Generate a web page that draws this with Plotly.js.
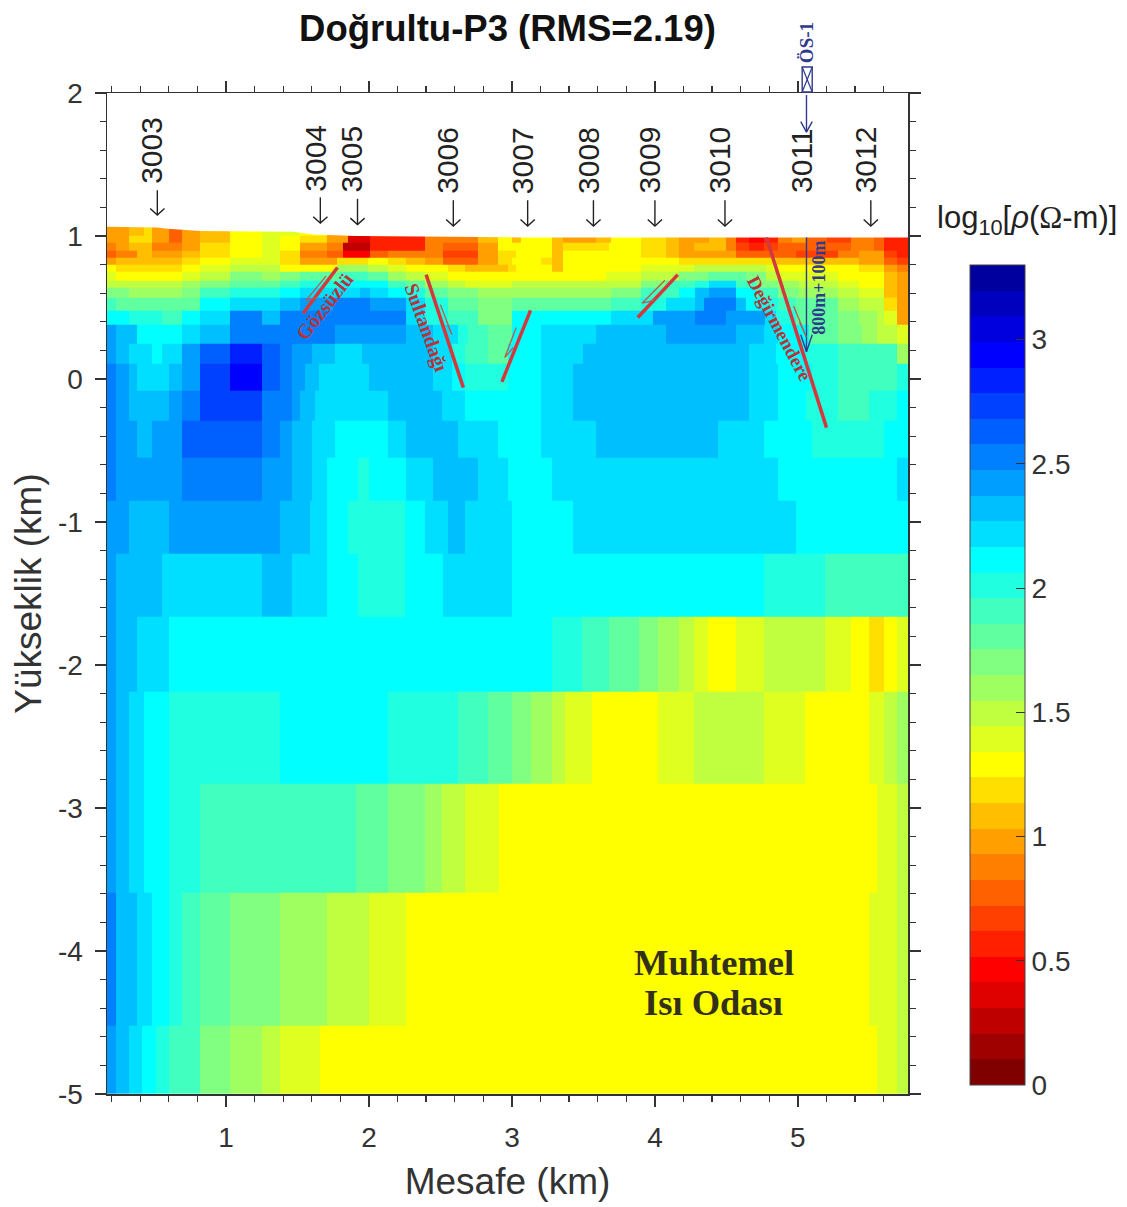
<!DOCTYPE html>
<html>
<head>
<meta charset="utf-8">
<script src="https://cdn.plot.ly/plotly-3.0.1.min.js"></script>
<style>html,body{margin:0;padding:0;background:#fff}#c{width:1127px;height:1207px}</style>
</head>
<body>
<div id="c"></div>
<script>
// Row boundaries (elevation, km), bottom to top
const derinlikKenar = [-5,-4.52,-3.59,-2.83,-2.19,-1.66,-1.22,-0.85,-0.55,-0.29,-0.08,0.11,0.25,0.38,0.48,0.57,0.64,0.69,0.75,0.80,0.85,0.90,0.95,1.0,1.1];
const xBaslangic = 0.168;
const xBitis = 5.77;

// Each row: [distance where the cell ends (km), log10 resistivity]
const r01 = [[.23,2.42],[.32,2.32],[.41,2.22],[.51,2.11],[.60,2.01],[.82,1.91],[1.03,1.70],[1.25,1.60],[1.38,1.50],[1.66,1.39],[5.55,1.29],[5.69,1.39],[5.77,1.50]];
const r02 = [[.23,2.53],[.38,2.32],[.48,2.22],[.60,2.11],[.69,2.01],[.82,1.91],[1.03,1.80],[1.38,1.70],[1.71,1.60],[2.00,1.50],[2.26,1.39],[5.50,1.29],[5.69,1.39],[5.77,1.50]];
const r03 = [[.23,2.42],[.32,2.32],[.43,2.22],[.60,2.11],[.82,2.01],[1.91,1.91],[2.13,1.80],[2.39,1.70],[2.51,1.60],[2.67,1.50],[2.91,1.39],[5.55,1.29],[5.69,1.39],[5.77,1.50]];
const r04 = [[.23,2.42],[.32,2.32],[.43,2.22],[.60,2.11],[1.38,2.01],[2.13,2.11],[2.62,2.01],[2.83,1.91],[3.00,1.80],[3.13,1.70],[3.28,1.60],[3.37,1.50],[3.56,1.39],[4.02,1.29],[4.27,1.39],[4.76,1.50],[5.05,1.39],[5.50,1.29],[5.60,1.39],[5.69,1.50],[5.77,1.60]];
const r05 = [[.23,2.42],[.38,2.32],[.60,2.22],[3.28,2.11],[3.49,2.01],[3.68,1.91],[3.89,1.80],[4.02,1.70],[4.17,1.60],[4.27,1.50],[4.37,1.39],[4.57,1.29],[4.76,1.39],[5.19,1.50],[5.37,1.39],[5.50,1.29],[5.60,1.19],[5.69,1.29],[5.77,1.39]];
const r06 = [[.23,2.42],[.55,2.32],[1.25,2.22],[1.46,2.32],[1.71,2.22],[1.92,2.11],[2.25,2.01],[2.52,2.11],[3.00,2.22],[4.76,2.11],[5.19,2.01],[5.77,1.91]];
const r07 = [[.32,2.42],[.60,2.32],[1.38,2.42],[1.59,2.32],[1.71,2.22],[1.85,2.11],[2.25,2.01],[2.39,2.11],[2.55,2.22],[2.67,2.32],[3.00,2.22],[3.43,2.11],[4.99,2.22],[5.77,2.11]];
const r08 = [[.23,2.53],[.69,2.42],[1.25,2.53],[1.46,2.42],[1.60,2.32],[1.71,2.22],[1.92,2.11],[2.00,2.01],[2.26,2.11],[2.45,2.22],[2.76,2.32],[2.97,2.22],[3.28,2.11],[4.86,2.22],[5.69,2.11],[5.77,2.22]];
const r09 = [[.23,2.53],[.38,2.42],[.48,2.32],[.69,2.42],[1.25,2.63],[1.38,2.53],[1.46,2.42],[1.60,2.32],[1.76,2.22],[2.13,2.11],[2.26,2.22],[2.62,2.32],[2.90,2.22],[3.20,2.11],[3.59,2.22],[4.44,2.32],[4.76,2.22],[5.10,2.11],[5.60,2.01],[5.77,2.11]];
const r10 = [[.23,2.53],[.32,2.42],[.60,2.32],[.69,2.42],[.82,2.53],[1.25,2.73],[1.46,2.53],[1.52,2.42],[1.62,2.32],[2.13,2.22],[2.51,2.32],[2.67,2.22],[3.20,2.11],[3.43,2.22],[4.66,2.32],[4.86,2.22],[5.06,2.11],[5.28,2.01],[5.50,1.91],[5.69,2.01],[5.77,2.11]];
const r11 = [[.23,2.53],[.32,2.42],[.38,2.32],[.60,2.22],[.69,2.32],[.82,2.42],[1.03,2.73],[1.25,2.94],[1.38,2.63],[1.46,2.53],[1.55,2.42],[1.65,2.32],[2.00,2.22],[2.45,2.32],[2.58,2.22],[2.67,2.11],[2.97,2.01],[3.20,2.11],[3.43,2.22],[4.66,2.32],[4.86,2.22],[5.10,2.11],[5.28,2.01],[5.69,1.91],[5.77,2.01]];
const r12 = [[.23,2.42],[.32,2.32],[.48,2.22],[.55,2.11],[.69,2.22],[.82,2.42],[1.03,2.63],[1.25,2.84],[1.38,2.63],[1.46,2.53],[1.60,2.42],[1.76,2.32],[1.95,2.22],[2.45,2.32],[2.58,2.22],[2.67,2.01],[2.83,1.91],[2.97,1.80],[3.20,2.11],[3.50,2.22],[4.66,2.32],[4.85,2.22],[5.06,2.11],[5.28,2.01],[5.69,1.91],[5.77,1.60]];
const r13 = [[.23,2.42],[.38,2.32],[.69,2.11],[.82,2.22],[1.03,2.32],[1.76,2.53],[2.26,2.42],[2.45,2.32],[2.62,2.22],[2.69,2.01],[2.83,1.91],[3.00,1.80],[3.20,2.11],[3.59,2.22],[4.08,2.32],[4.57,2.42],[4.76,2.32],[4.86,2.22],[5.08,2.11],[5.28,1.80],[5.45,1.70],[5.55,1.60],[5.69,1.50],[5.77,1.39]];
const r14 = [[.32,2.11],[.55,2.01],[.69,1.91],[.82,2.11],[1.03,2.22],[1.25,2.53],[1.38,2.32],[2.26,2.53],[2.39,2.22],[2.55,2.01],[2.76,1.91],[3.00,1.70],[3.69,2.11],[3.99,2.22],[4.28,2.42],[4.50,2.53],[4.77,2.42],[4.85,2.22],[4.99,2.01],[5.28,1.80],[5.43,1.70],[5.55,1.60],[5.60,1.50],[5.69,1.39],[5.77,1.00]];
const r15 = [[.23,1.91],[.82,1.80],[1.03,2.11],[1.38,2.22],[1.52,2.32],[1.75,2.42],[2.01,2.53],[2.26,2.42],[2.39,2.22],[2.55,2.01],[2.76,1.80],[3.00,1.70],[3.69,1.80],[3.90,1.91],[4.08,2.01],[4.28,2.22],[4.34,2.32],[4.57,2.53],[4.64,2.32],[4.78,2.11],[4.86,2.01],[4.99,1.91],[5.28,1.80],[5.43,1.60],[5.60,1.50],[5.69,1.19],[5.77,.98]];
const r16 = [[.32,1.70],[.69,1.60],[.82,1.70],[1.03,1.91],[1.38,2.01],[1.52,2.11],[1.94,2.22],[2.01,2.32],[2.13,2.22],[2.26,2.11],[2.39,2.01],[2.55,1.80],[2.76,1.70],[3.69,1.60],[3.90,1.70],[4.17,1.91],[4.28,2.11],[4.38,2.32],[4.57,2.42],[4.71,2.11],[4.86,1.91],[5.01,1.70],[5.28,1.60],[5.43,1.50],[5.60,1.39],[5.69,1.08],[5.77,.98]];
const r17 = [[.69,1.50],[.82,1.60],[1.03,1.70],[1.38,1.80],[1.52,1.91],[1.80,2.01],[2.13,2.11],[2.26,1.91],[2.39,1.80],[2.55,1.60],[2.67,1.50],[3.00,1.39],[3.90,1.50],[4.08,1.70],[4.28,1.91],[4.38,2.01],[4.57,2.22],[4.71,1.91],[4.86,1.70],[5.01,1.60],[5.28,1.50],[5.43,1.39],[5.60,1.29],[5.69,1.08],[5.77,.98]];
const r18 = [[.23,1.39],[.69,1.29],[.82,1.39],[1.03,1.50],[1.25,1.70],[1.38,1.60],[1.52,1.70],[1.80,1.80],[1.99,1.91],[2.13,1.80],[2.26,1.60],[2.39,1.50],[2.55,1.39],[3.66,1.29],[3.90,1.39],[4.17,1.50],[4.37,1.70],[4.64,1.80],[4.78,1.70],[4.86,1.50],[5.28,1.39],[5.60,1.29],[5.69,1.08],[5.77,.98]];
const r19 = [[.23,1.29],[.69,1.19],[.82,1.29],[1.03,1.39],[1.38,1.50],[1.78,1.29],[1.99,1.60],[2.13,1.50],[2.26,1.39],[2.55,1.29],[2.67,1.19],[2.97,1.08],[3.03,1.19],[3.28,1.29],[3.36,1.08],[3.90,1.29],[4.27,1.39],[4.78,1.50],[4.86,1.39],[5.43,1.29],[5.60,1.19],[5.69,.98],[5.77,.88]];
const r20 = [[.23,.98],[.69,1.08],[.82,1.19],[1.03,1.29],[1.38,1.39],[1.52,1.19],[1.78,.98],[1.99,1.19],[2.13,1.29],[2.26,1.19],[2.39,1.08],[2.52,.98],[2.76,.77],[2.90,.98],[3.00,1.19],[3.20,1.29],[3.28,1.19],[3.36,1.08],[4.17,1.29],[4.85,1.19],[5.43,1.08],[5.60,.98],[5.69,.77],[5.77,.67]];
const r21 = [[.23,.77],[.38,.88],[.48,1.08],[.69,.98],[.82,1.08],[1.03,1.19],[1.25,1.29],[1.38,1.39],[1.52,1.19],[1.71,.88],[1.82,.77],[2.01,.46],[2.13,.77],[2.52,.88],[2.76,.67],[2.90,.98],[3.03,1.19],[3.28,1.29],[3.36,1.08],[3.90,1.29],[4.08,1.19],[4.17,1.08],[4.57,.98],[4.99,.77],[5.28,.67],[5.43,.88],[5.60,.98],[5.69,.67],[5.77,.57]];
const r22 = [[.23,.88],[.32,.98],[.48,1.08],[.69,.88],[.82,.98],[1.03,1.19],[1.25,1.29],[1.38,1.39],[1.52,1.29],[1.71,.98],[1.82,.88],[2.01,.26],[2.39,.57],[2.52,.88],[2.76,.77],[2.90,.98],[3.28,1.29],[3.36,1.08],[3.68,1.19],[3.90,1.29],[4.08,1.19],[4.17,1.08],[4.27,.98],[4.50,1.08],[4.57,.88],[4.66,.67],[4.76,.57],[4.86,.67],[5.37,.77],[5.53,.88],[5.60,.77],[5.77,.57]];
const r23 = [[.32,.98],[.48,1.19],[.60,.98],[.69,.77],[.82,.98],[1.03,1.08],[1.25,1.29],[1.38,1.39],[1.52,1.29],[1.71,1.19],[1.85,.98],[2.01,.36],[2.39,.57],[2.76,.88],[2.90,1.08],[3.00,1.29],[3.06,1.08],[3.28,1.29],[3.36,1.08],[3.59,.98],[3.69,1.08],[3.90,1.29],[4.08,1.19],[4.17,1.08],[4.38,.98],[4.50,1.08],[4.57,.88],[4.66,.57],[4.76,.46],[4.86,.57],[4.96,.88],[5.06,.98],[5.20,.77],[5.37,.67],[5.53,.88],[5.60,.77],[5.77,.57]];
const r24 = [[.32,.98],[.43,1.08],[.48,1.19],[.60,.98],[.69,.77],[.82,.98],[1.03,1.08],[1.25,1.29],[1.52,1.39],[1.71,1.29],[5.77,1.00]];
const satirlar = [r01,r02,r03,r04,r05,r06,r07,r08,r09,r10,r11,r12,r13,r14,r15,r16,r17,r18,r19,r20,r21,r22,r23,r24];

// Ground surface (km)
const yuzeyX = [.168,.43,.52,.59,.82,1.47,1.61,1.92,3.06,5.77];
const yuzeyY = [1.065,1.065,1.06,1.05,1.035,1.03,1.01,1.00,.99,.99];

// Stations
const istasyonAd = ['3003','3004','3005','3006','3007','3008','3009','3010','3011','3012'];
const istasyonX  = [.52,1.66,1.92,2.59,3.11,3.57,4.00,4.49,5.06,5.51];
const okUst      = [1.32,1.27,1.26,1.25,1.25,1.25,1.25,1.25,null,1.25];
const okUc       = [1.147,1.09,1.08,1.07,1.07,1.07,1.07,1.07,null,1.07];
const etiketY    = [1.60,1.545,1.54,1.53,1.53,1.53,1.53,1.53,1.53,1.53];

// Faults: [x0,y0,x1,y1] km
const faylar = [[1.54,.46,1.78,.78],[2.40,.73,2.66,-.06],[3.13,.48,2.93,-.02],[4.16,.73,3.88,.43],[4.78,.99,5.20,-.34]];
// Slip half arrows: [x0,y0,xTip,yTip,xBarb,yBarb]
const kaymalar = [[1.70,.72,1.56,.55,1.64,.57],[2.50,.52,2.58,.31,2.55,.38],[3.03,.36,2.95,.15,3.01,.22],[4.07,.69,3.91,.53,4.00,.55],[4.97,.51,5.06,.29,5.01,.40]];

// 32-level jet colormap, value 0 upward
const renkler = ['128,0,0','159,0,0','191,0,0','223,0,0','255,0,0','255,32,0','255,64,0','255,96,0','255,128,0','255,159,0','255,191,0','255,223,0','255,255,0','223,255,32','191,255,64','159,255,96','128,255,128','96,255,159','64,255,191','32,255,223','0,255,255','0,223,255','0,191,255','0,159,255','0,128,255','0,96,255','0,64,255','0,32,255','0,0,255','0,0,223','0,0,191','0,0,159'];
const renkMin = 0, renkMax = 3.3;
const renkTick = [0,.5,1,1.5,2,2.5,3];
const renkTickYazi = ['0','0.5','1','1.5','2','2.5','3'];
const yTick = [-5,-4,-3,-2,-1,0,1,2];
const yTickYazi = ['-5','-4','-3','-2','-1','0','1','2'];
const xTick = [1,2,3,4,5];

// ---- build ----
const kenarSet = new Set([xBaslangic]);
satirlar.forEach(r => r.forEach(c => kenarSet.add(c[0])));
const xKenar = Array.from(kenarSet).sort((a,b)=>a-b);
const z = satirlar.map(r => {
  const out = [];
  for (let i=0;i<xKenar.length-1;i++){
    const m=(xKenar[i]+xKenar[i+1])/2;
    const cell=r.find(c=>c[0]>=m)||r[r.length-1];
    out.push(cell[1]);
  }
  return out;
});
const colorscale=[];
renkler.forEach((c,i)=>{
  colorscale.push([i/renkler.length,'rgb('+c+')']);
  colorscale.push([(i+1)/renkler.length,'rgb('+c+')']);
});

const okX=[],okY=[];
istasyonX.forEach((x,i)=>{
  if(okUst[i]===null) return;
  okX.push(x,x,null,x-.05,x,x+.05,null);
  okY.push(okUst[i],okUc[i],null,okUc[i]+.045,okUc[i],okUc[i]+.045,null);
});
const fayX=[],fayY=[];
faylar.forEach(f=>{fayX.push(f[0],f[2],null);fayY.push(f[1],f[3],null);});
const kayX=[],kayY=[];
kaymalar.forEach(k=>{kayX.push(k[0],k[2],k[4],null);kayY.push(k[1],k[3],k[5],null);});

const SANS='"Liberation Sans", Arial, sans-serif';
const SERIF='"Liberation Serif", "Times New Roman", serif';
const KOYU='#333333', LACI='#2f3a8c', KIRMIZI='#d4383c', YAZIKIRMIZI='#b8323a';

const traces=[
 {type:'heatmap',x:xKenar,y:derinlikKenar,z:z,zmin:renkMin,zmax:renkMax,colorscale:colorscale,zsmooth:false,hoverinfo:'skip',
  colorbar:{thicknessmode:'pixels',thickness:55,lenmode:'pixels',len:820,x:1.0774,xanchor:'left',xpad:0,y:.009,yanchor:'bottom',ypad:0,
    outlinecolor:'#444',outlinewidth:1,tickmode:'array',tickvals:renkTick,ticktext:renkTickYazi,tickprefix:'\u00a0\u2009',ticks:'inside',ticklen:9,tickcolor:'#333',tickwidth:1,
    tickfont:{family:SANS,size:28,color:KOYU}}},
 {type:'scatter',mode:'lines',x:yuzeyX.concat([5.77,.168]),y:yuzeyY.concat([1.2,1.2]),fill:'toself',fillcolor:'#fff',line:{width:0,color:'#fff'},hoverinfo:'skip',showlegend:false},
 {type:'scatter',mode:'lines',x:okX,y:okY,line:{color:'#222',width:1.4},hoverinfo:'skip',showlegend:false},
 {type:'scatter',mode:'lines',x:[5.06,5.06,null,5.02,5.06,5.10],y:[1.986,1.727,null,1.80,1.727,1.80],line:{color:LACI,width:1.4},hoverinfo:'skip',showlegend:false},
 {type:'scatter',mode:'lines',x:[5.06,5.06,null,5.02,5.06,5.10],y:[.99,.19,null,.31,.19,.31],line:{color:LACI,width:1.4},hoverinfo:'skip',showlegend:false},
 {type:'scatter',mode:'lines',x:fayX,y:fayY,line:{color:KIRMIZI,width:3.5},hoverinfo:'skip',showlegend:false},
 {type:'scatter',mode:'lines',x:kayX,y:kayY,line:{color:'#b85a50',width:1.3},hoverinfo:'skip',showlegend:false}
];

const annotations=istasyonAd.map((t,i)=>({x:istasyonX[i]-.04,y:etiketY[i],xref:'x',yref:'y',xanchor:'center',yanchor:'middle',text:t,showarrow:false,textangle:-90,font:{family:SANS,size:30,color:'#222'}}));
const rot=(t,x,y,a,s,c)=>({x:x,y:y,xref:'x',yref:'y',xanchor:'center',yanchor:'middle',text:'<b>'+t+'</b>',showarrow:false,textangle:a,font:{family:SERIF,size:s,color:c}});
annotations.push(
 rot('Gözsüzlü',1.69,.51,-52,20,YAZIKIRMIZI),
 rot('Sultandağı',2.40,.36,70,20,YAZIKIRMIZI),
 rot('Değirmendere',4.87,.35,62,19,YAZIKIRMIZI),
 rot('800m+100m',5.15,.64,-90,18,LACI),
 rot('Muhtemel',4.41,-4.08,0,36.5,'#33301a'),
 rot('Isı Odası',4.41,-4.36,0,36.5,'#33301a'),
 {x:5.065,y:1.05,xref:'x',yref:'paper',xanchor:'center',yanchor:'middle',text:'<b>ÖS-1</b>',showarrow:false,textangle:-90,font:{family:SERIF,size:19,color:LACI}},
 {x:1.1486,y:.873,xref:'paper',yref:'paper',xanchor:'center',yanchor:'middle',text:'log<sub>10</sub>[<i>ρ</i>(<span style="font-family:\'Liberation Serif\'">Ω</span>-m)]',showarrow:false,font:{family:SANS,size:31,color:'#222'}}
);

const sutunKutu={type:'rect',xref:'x',yref:'paper',x0:5.03,x1:5.10,y0:1.001,y1:1.026,line:{color:LACI,width:1.4}};
const ekseni={showline:true,linecolor:'#333',linewidth:1.5,mirror:'ticks',ticks:'outside',ticklen:11,tickwidth:1.5,tickcolor:'#333',
  zeroline:false,showgrid:false,tickfont:{family:SANS,size:28,color:KOYU},
  minor:{ticks:'outside',ticklen:6,tickwidth:1.3,tickcolor:'#333',dtick:.2,tick0:0,showgrid:false}};

const layout={
 width:1127,height:1207,paper_bgcolor:'#fff',plot_bgcolor:'#fff',showlegend:false,
 margin:{l:107,r:219,t:93,b:113,pad:0},
 title:{text:'<b>Doğrultu-P3 (RMS=2.19)</b>',font:{family:SANS,size:36.5,color:'#111'},x:.5,xref:'paper',xanchor:'center',y:.9765,yref:'container',yanchor:'middle'},
 xaxis:Object.assign({},ekseni,{range:[xBaslangic,xBitis],tickmode:'array',tickvals:xTick,ticktext:xTick.map(String),ticklabelstandoff:7,
   title:{text:'Mesafe (km)',font:{family:SANS,size:37,color:KOYU},standoff:16}}),
 yaxis:Object.assign({},ekseni,{range:[-5,2],tickmode:'array',tickvals:yTick,ticktext:yTickYazi,ticklabelstandoff:6,
   title:{text:'Yükseklik (km)',font:{family:SANS,size:37,color:KOYU},standoff:5}}),
 annotations:annotations,
 shapes:[sutunKutu,
  {type:'line',xref:'x',yref:'paper',x0:5.03,x1:5.10,y0:1.001,y1:1.026,line:{color:LACI,width:1.2}},
  {type:'line',xref:'x',yref:'paper',x0:5.03,x1:5.10,y0:1.026,y1:1.001,line:{color:LACI,width:1.2}}]
};
Plotly.newPlot('c',traces,layout,{displayModeBar:false,staticPlot:true});
</script>
</body>
</html>
